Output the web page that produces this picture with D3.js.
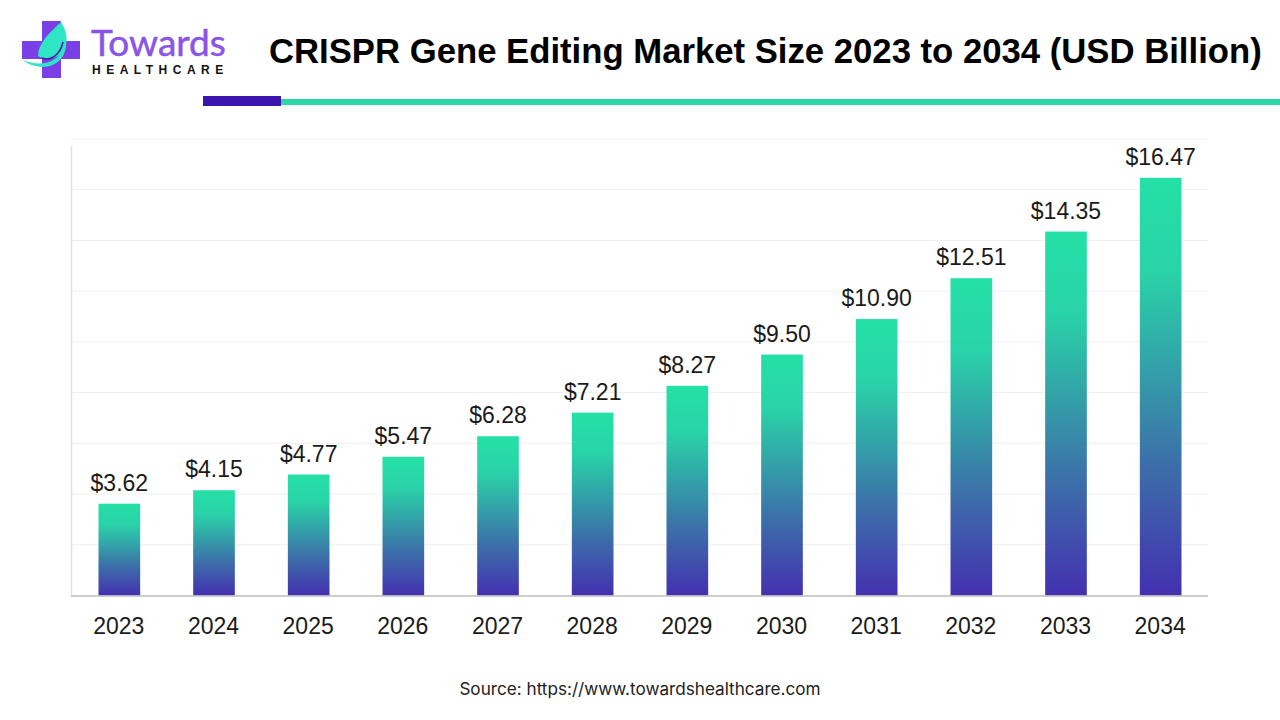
<!DOCTYPE html>
<html>
<head>
<meta charset="utf-8">
<script src="https://cdn.jsdelivr.net/npm/d3@7"></script>
<style>
  html, body { margin: 0; padding: 0; background: #fff; }
  svg { display: block; font-family: "Liberation Sans", Arial, sans-serif; }
</style>
</head>
<body>
<div id="svg-container"></div>
<script>
// data
const years = ["2023", "2024", "2025", "2026", "2027", "2028", "2029", "2030", "2031", "2032", "2033", "2034"];
const values = [3.62, 4.15, 4.77, 5.47, 6.28, 7.21, 8.27, 9.5, 10.9, 12.51, 14.35, 16.47];
const gridTicks = [0, 2, 4, 6, 8, 10, 12, 14, 16, 18];

const width = 1280;
const height = 720;

const svg = d3.select("#svg-container").append("svg")
  .attr("width", width)
  .attr("height", height);

// scales
const xScale = d3.scaleBand()
  .domain(years)
  .range([72, 1208])
  .paddingInner(0.56)
  .paddingOuter(0.28);

const yScale = d3.scaleLinear()
  .domain([0, 18])
  .range([595.5, 139]);

// gradient for bars
const grad = svg.append("defs").append("linearGradient")
  .attr("id", "barGrad")
  .attr("x1", 0).attr("y1", 0).attr("x2", 0).attr("y2", 1);
grad.append("stop").attr("offset", "0%").attr("stop-color", "#24E0A6");
grad.append("stop").attr("offset", "22%").attr("stop-color", "#29D4A8");
grad.append("stop").attr("offset", "68%").attr("stop-color", "#3C70A9");
grad.append("stop").attr("offset", "100%").attr("stop-color", "#4430B0");

// gridlines
svg.selectAll(".grid")
  .data(gridTicks.slice(1))
  .enter()
  .append("line")
  .attr("class", "grid")
  .attr("x1", 71)
  .attr("x2", 1208)
  .attr("y1", (d) => yScale(d))
  .attr("y2", (d) => yScale(d))
  .attr("stroke", "#EFEFEF")
  .attr("stroke-width", 1);

// axis lines
svg.append("line")
  .attr("x1", 71.5).attr("x2", 71.5)
  .attr("y1", 146).attr("y2", 596)
  .attr("stroke", "#E3E3E3")
  .attr("stroke-width", 1.5);

// bars
svg.selectAll(".bar")
  .data(values)
  .enter()
  .append("rect")
  .attr("class", "bar")
  .attr("x", (d, i) => xScale(years[i]))
  .attr("y", (d) => yScale(d))
  .attr("width", xScale.bandwidth())
  .attr("height", (d) => yScale(0) - yScale(d))
  .attr("fill", "url(#barGrad)");

svg.append("line")
  .attr("x1", 71).attr("x2", 1208)
  .attr("y1", 596).attr("y2", 596)
  .attr("stroke", "#BDBDBD")
  .attr("stroke-width", 1.5);

// value labels
svg.selectAll(".value-label")
  .data(values)
  .enter()
  .append("text")
  .attr("class", "value-label")
  .attr("x", (d, i) => xScale(years[i]) + xScale.bandwidth() / 2)
  .attr("y", (d) => yScale(d) - 13)
  .attr("text-anchor", "middle")
  .attr("font-size", 23)
  .attr("fill", "#1a1a1a")
  .text((d) => "$" + d3.format(".2f")(d));

// x axis labels
svg.selectAll(".year-label")
  .data(years)
  .enter()
  .append("text")
  .attr("class", "year-label")
  .attr("x", (d) => xScale(d) + xScale.bandwidth() / 2 - 0.5)
  .attr("y", 634)
  .attr("text-anchor", "middle")
  .attr("font-size", 23)
  .attr("fill", "#1a1a1a")
  .text((d) => d);

// title
svg.append("text")
  .attr("x", 269)
  .attr("y", 63)
  .attr("font-size", 34.7)
  .attr("font-weight", "bold")
  .attr("fill", "#000")
  .text("CRISPR Gene Editing Market Size 2023 to 2034 (USD Billion)");

// header rule
svg.append("rect").attr("x", 281).attr("y", 99).attr("width", 999).attr("height", 6).attr("fill", "#2FD6A8");
svg.append("rect").attr("x", 203).attr("y", 96).attr("width", 78).attr("height", 10).attr("fill", "#3A16AE");

// source
svg.append("text")
  .attr("x", 640)
  .attr("y", 694.5)
  .attr("text-anchor", "middle")
  .attr("font-size", 17.15)
  .attr("font-family", "Inter, sans-serif")
  .attr("fill", "#222")
  .text("Source: https://www.towardshealthcare.com");

// logo
const logo = svg.append("g");
logo.append("path")
  .attr("d", "M42 21H61V41H80V59H61V78H42V59H22V41H42Z")
  .attr("fill", "#7A3FE6");
logo.append("path")
  .attr("d", "M61 22C70 36 68 52 56 57C48 60 42 58 38 56C38 44 48 34 61 22Z")
  .attr("fill", "#2FE6C4");
logo.append("path")
  .attr("d", "M42 58C50 61 60 56 63 42")
  .attr("fill", "none")
  .attr("stroke", "#3A1E9E")
  .attr("stroke-width", 1.5);
logo.append("path")
  .attr("d", "M23 60C38 66 58 66 66 44C66 60 52 70 36 66C30 65 26 63 23 60Z")
  .attr("fill", "#2FE6C4");
logo.append("text")
  .attr("x", 91)
  .attr("y", 56)
  .attr("font-size", 37)
  .attr("font-family", "Lato, sans-serif")
  .attr("fill", "#8A55E6")
  .attr("stroke", "#8A55E6")
  .attr("stroke-width", 0.5)
  .text("Towards");
logo.append("text")
  .attr("x", 92)
  .attr("y", 74)
  .attr("font-size", 12)
  .attr("font-weight", "bold")
  .attr("letter-spacing", 5.5)
  .attr("fill", "#111")
  .text("HEALTHCARE");
</script>
</body>
</html>
